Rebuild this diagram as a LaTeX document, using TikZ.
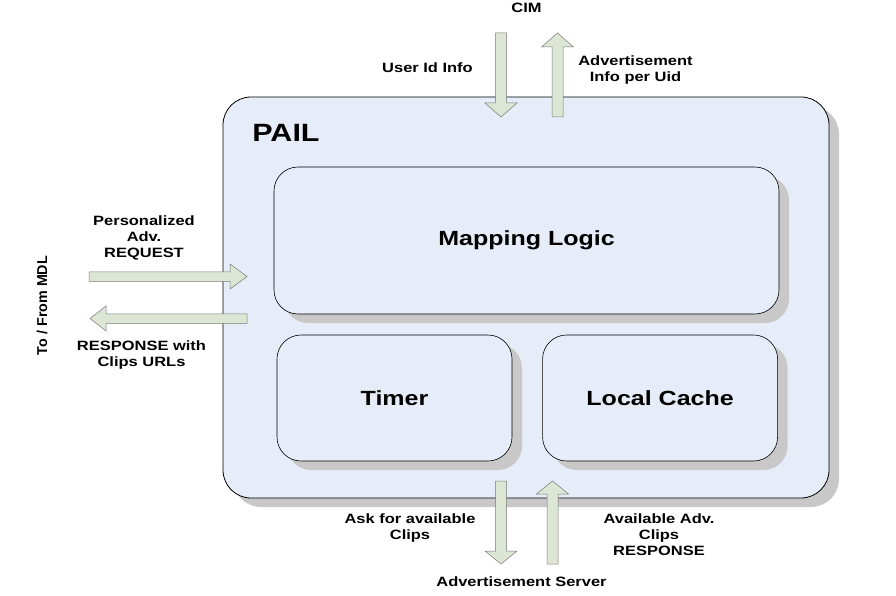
\documentclass[tikz,border=0pt]{standalone}
\usepackage{fontspec}
\setmainfont{Liberation Sans}[FakeStretch=1.22]
\newfontfamily\plainfont{Liberation Sans}
\usetikzlibrary{positioning,calc,shadows}

\definecolor{boxfill}{RGB}{230,236,248}
\definecolor{arrowfill}{RGB}{221,230,212}
\definecolor{arrowline}{RGB}{120,120,120}
\definecolor{shadowgray}{RGB}{200,200,200}

% block arrow: tail, tip, half shaft, half head, head length
\newcommand\blockarrow[5]{%
  \draw[arrowbody]
    ($(#1)!#3!90:(#2)$) -- ($(#2)!#5!(#1)!#3!-90:(#1)$)
    -- ($(#2)!#5!(#1)!#4!-90:(#1)$) -- (#2)
    -- ($(#2)!#5!(#1)!#4!90:(#1)$) -- ($(#2)!#5!(#1)!#3!90:(#1)$)
    -- ($(#1)!#3!-90:(#2)$) -- cycle;
}

\begin{document}
\begin{tikzpicture}[
x=1pt,
y=-1pt,
lbl/.style={
  font=\fontsize{13.5}{16}\selectfont\bfseries,
  align=center
  },
block/.style={
  draw=black,
  fill=boxfill,
  rounded corners=#1,
  line width=0.6pt,
  font=\fontsize{20.5}{24}\selectfont\bfseries,
  drop shadow={shadow xshift=10pt, shadow yshift=-9pt, fill=shadowgray, opacity=1}
  },
block/.default=24pt,
arrowbody/.style={
  draw=arrowline,
  fill=arrowfill,
  line width=0.5pt
  },
>=latex
]
\useasboundingbox (0,0) rectangle (896,596);

\node[block=28pt, line width=0.8pt, minimum width=606pt, minimum height=401pt] (pail) at (526,297.5) {};
\node[font=\fontsize{25}{28}\selectfont\bfseries] (pailName) at (286,132.5) {PAIL};

\node[block, minimum width=505pt, minimum height=147pt] (mapping) at (526.5,240.5) {Mapping Logic};
\node[block, minimum width=235pt, minimum height=126pt] (timer) at (394.5,398) {Timer};
\node[block, minimum width=235pt, minimum height=126pt, right=30pt of timer] (cache) {Local Cache};

% labels
\node[lbl] (cim) at (526.5,8) {CIM};
\node[lbl] (uid) at (427.5,67.7) {User Id Info};
\node[lbl] (advInfo) at (635.5,70.5) {Advertisement\\Info per Uid};
\node[lbl] (req) at (144,238) {Personalized\\Adv.\\REQUEST};
\node[lbl] (resp) at (141.5,355) {RESPONSE with\\Clips URLs};
\node[lbl, font=\plainfont\fontsize{14.3}{16}\selectfont\bfseries, rotate=90] (mdl) at (42,305.5) {To / From MDL};
\node[lbl] (ask) at (410,528) {Ask for available\\Clips};
\node[lbl] (avail) at (659,535) {Available Adv.\\Clips\\RESPONSE};
\node[lbl] (adServer) at (521.5,582) {Advertisement Server};

% arrow ends
\coordinate (uidTail) at (501,33);
\coordinate (uidTip) at (501,117);
\coordinate (advTail) at (557.5,117);
\coordinate (advTip) at (557.5,33);
\coordinate (reqTail) at (89,276.5);
\coordinate (reqTip) at (247,276.5);
\coordinate (respTail) at (247,318.5);
\coordinate (respTip) at (90,318.5);
\coordinate (askTail) at (501,481);
\coordinate (askTip) at (501,564);
\coordinate (availTail) at (552.5,564);
\coordinate (availTip) at (552.5,481);

\foreach \ta/\tb/\sw/\hw/\hlen in {uidTail/uidTip/5.5pt/16pt/14pt,
  advTail/advTip/5.5pt/16pt/14pt,
  askTail/askTip/5.5pt/16pt/13pt,
  availTail/availTip/5.5pt/16pt/13pt,
  reqTail/reqTip/4.75pt/12.5pt/17pt,
  respTail/respTip/4.75pt/12.5pt/16pt}
  \blockarrow{\ta}{\tb}{\sw}{\hw}{\hlen};

\end{tikzpicture}
\end{document}
